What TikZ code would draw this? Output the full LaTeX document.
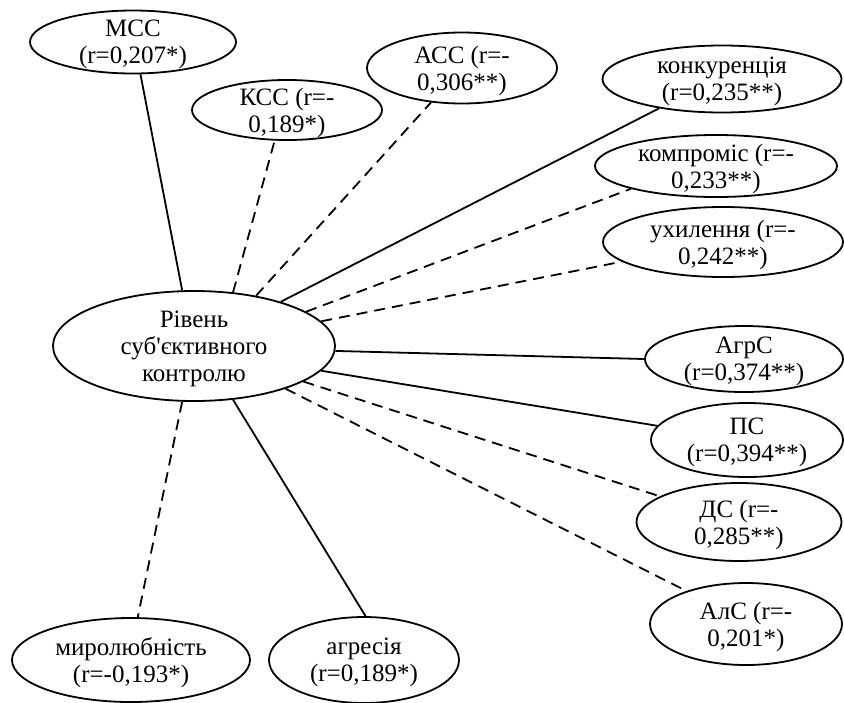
\documentclass[tikz,border=0pt]{standalone}
\usepackage{fontspec}
\setmainfont{Liberation Serif}[Ligatures=TeXOff]
\usetikzlibrary{shapes}

\tikzset{
bubble/.style 2 args = {ellipse, draw=black, align=center, inner xsep=0pt, inner ysep=-2pt,
  text depth=-3pt, minimum width=#1*0.5pt, minimum height=#2*0.5pt},
pos-link/.style = {draw=black},
neg-link/.style = {draw=black, dash pattern=on 5.5pt off 3.5pt}
}

\begin{document}
\begin{tikzpicture}[
x=0.5pt, y=-0.5pt, line width=0.9pt,
every node/.style = {font=\fontsize{12.5}{13.5}\selectfont}
]
\useasboundingbox (0,0) rectangle (844,702);

\node [bubble={282}{110}, text depth=0pt] (root) at (194, 346) {Рівень\\суб'єктивного\\контролю};

\node [bubble={206}{63}] (mcc) at (133, 42) {МСС\\(r=0,207*)};
\node [bubble={190}{60}] (kcc) at (287, 110) {КСС (r=-\\0,189*)};
\node [bubble={190}{71}] (acc) at (462, 68) {АСС (r=-\\0,306**)};

\node [bubble={239}{67}] (konk) at (722, 79) {конкуренція\\(r=0,235**)};
\node [bubble={242}{62}] (komp) at (716, 166) {компроміс (r=-\\0,233**)};
\node [bubble={240}{70}] (ukh) at (723, 242) {ухилення (r=-\\0,242**)};

\node [bubble={198}{66}] (agrs) at (744, 359) {АгрС\\(r=0,374**)};
\node [bubble={192}{74}] (ps) at (747, 440) {ПС\\(r=0,394**)};
\node [bubble={205}{78}] (ds) at (739, 522) {ДС (r=-\\0,285**)};
\node [bubble={192}{82}] (als) at (746, 624) {АлС (r=-\\0,201*)};

\node [bubble={238}{84}] (myr) at (131, 660) {миролюбність\\(r=-0,193*)};
\node [bubble={190}{86}] (agr) at (364, 660) {агресія\\(r=0,189*)};


% links
\draw[pos-link] (root.102) -- (mcc.-77);
\draw[neg-link] (root.54) -- (kcc.-112);
\draw[neg-link] (root.39) -- (acc.-132);
\draw[pos-link] (root.27) -- (konk.-155);
\draw[neg-link] (root.17) -- (komp.-165);
\draw[neg-link] (root.11) -- (ukh.-169);
\draw[pos-link] (root.-2) -- (agrs.180);
\draw[pos-link] (root.-11) -- (ps.171);
\draw[neg-link] (root.-18) -- (ds.162);
\draw[neg-link] (root.-25) -- (als.151);
\draw[pos-link] (root.-54) -- (agr.88);
\draw[neg-link] (root.-102) -- (myr.81);

\end{tikzpicture}
\end{document}
